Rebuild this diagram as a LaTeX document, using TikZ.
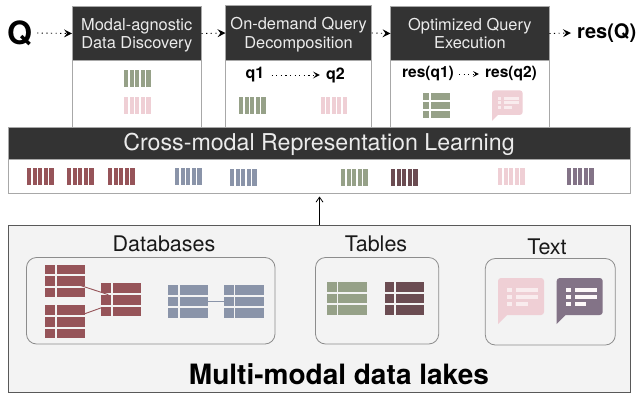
\documentclass[tikz,border=0pt]{standalone}
\usepackage{fontspec}
\setmainfont{TeX Gyre Heros}
\usetikzlibrary{arrows.meta,positioning,calc}
\definecolor{cred}{HTML}{965459}
\definecolor{cblue}{HTML}{8A94A9}
\definecolor{cgreen}{HTML}{96A188}
\definecolor{cpink}{HTML}{EFCFD5}
\definecolor{cdark}{HTML}{6B4C52}
\definecolor{cpurple}{HTML}{837387}
\definecolor{chead}{HTML}{333333}
\definecolor{cline}{HTML}{A8A8A8}
\definecolor{clake}{HTML}{F3F3F3}
\newcommand{\fs}[1]{\fontsize{#1}{#1}\selectfont}
\tikzset{
  bodybox/.style={draw=cline,line width=1pt,fill=white},
  headbox/.style={draw=cline,line width=1pt,fill=chead},
  headtext/.style={text=white!92!black,align=center,inner sep=0pt,font=\fs{16.4},text depth=0pt},
  boldtext/.style={inner sep=0pt,font=\bfseries\fs{#1}},
  grouptext/.style={inner sep=0pt,text=black!90,font=\fs{21.5}},
  groupbox/.style={draw=black!45,line width=.8pt,rounded corners=10pt},
  icon/.style={inner sep=0pt,outer sep=0pt,anchor=north west},
  dotarrow/.style={line width=.9pt,dash pattern=on 1.2pt off 3.4pt,-{Stealth[length=8pt,width=8pt,inset=3pt,line width=0pt]}},
}
% bars: name, x, y, colour
\newcommand{\barsicon}[4]{%
  \node[icon,minimum width=26.5pt,minimum height=17pt] (#1) at (#2,#3) {};
  \foreach \k in {0,...,4}{\fill[#4] ({#2+\k*5.55},#3) rectangle ++(4.3,17);}
}
% table: name, x, y, w, h, colour
\newcommand{\tableicon}[6]{%
  \node[icon,minimum width=#4pt,minimum height=#5pt] (#1) at (#2,#3) {};
  \begin{scope}[shift={(#2,#3)},xscale=#4/39.7,yscale=#5/32.7]
    \foreach \r in {0,1,2}{
      \fill[#6] (0,{\r*11.65}) rectangle ++(9.6,9.6);
      \fill[#6] (11.4,{\r*11.65}) rectangle ++(28.3,9.6);
    }
  \end{scope}
}
% bubble: name, x, y, scale, colour, line colour
\newcommand{\bubbleicon}[6]{%
  \node[icon,minimum width=#4*46pt,minimum height=#4*46pt] (#1) at (#2,#3) {};
  \begin{scope}[shift={(#2,#3)},scale=#4]
    \fill[#5,rounded corners=2.5pt] (0,37) [sharp corners] -- (0,46) -- (9,37) [rounded corners=3pt] -- (46,37) -- (46,0) -- (0,0) -- cycle;
    \foreach \r/\l in {0/22,1/22,2/11.5}{
      \fill[#6] (9,{9.7+\r*6.9}) rectangle ++(5,4.2);
      \fill[#6] (18,{9.7+\r*6.9}) rectangle ++(\l,4.2);
    }
  \end{scope}
}
\begin{document}
\begin{tikzpicture}[x=1pt,y=-1pt]
\useasboundingbox (0,0) rectangle (636,396);
% pipeline boxes
\draw[bodybox] (72,6.5) rectangle (201.5,128);
\node[headbox,icon,minimum width=129.5pt,minimum height=54pt] (h1) at (72,6.5) {};
\node[headtext] at (h1.center) {Modal-agnostic\\[2pt]Data Discovery};
\draw[bodybox] (225.5,6) rectangle (371.7,128);
\node[headbox,icon,minimum width=146.2pt,minimum height=54pt] (h2) at (225.5,6) {};
\node[headtext] at (h2.center) {On-demand Query\\[2pt]Decomposition};
\draw[bodybox] (390.5,7) rectangle (549.3,128);
\node[headbox,icon,minimum width=158.8pt,minimum height=53pt] (h3) at (390.5,7) {};
\node[headtext] at (h3.center) {Optimized Query\\[2pt]Execution};
% query and result
\node[boldtext=32] (q) at (19.5,33) {Q};
\node[boldtext=20,anchor=west] (r) at (577,33) {res(Q)};
\draw[dotarrow] (q.east)++(5,0) -- (h1.west);
\draw[dotarrow] (h1.east) -- (h2.west);
\draw[dotarrow] (h2.east) -- (h3.west);
\draw[dotarrow] (h3.east) -- ([xshift=-6pt]r.west);
% box contents
\barsicon{b1g}{124}{70}{cgreen}
\barsicon{b1p}{124}{97}{cpink}
\node[boldtext=16] (q1) at (255,75) {q1};
\node[boldtext=16] (q2) at (335.5,75) {q2};
\draw[dotarrow,line width=.7pt,-{Stealth[length=7pt,width=7pt,inset=3pt,line width=0pt]}] ([xshift=7pt]q1.east) -- ([xshift=-6pt]q2.west);
\barsicon{b2g}{239}{97}{cgreen}
\barsicon{b2p}{320.5}{97}{cpink}
\node[boldtext=15.5] (rq1) at (428,74) {res(q1)};
\node[boldtext=15.5] (rq2) at (511,74) {res(q2)};
\draw[dotarrow,line width=.7pt,-{Stealth[length=6pt,width=6pt,inset=2.5pt,line width=0pt]}] ([xshift=5pt]rq1.east) -- ([xshift=-6pt]rq2.west);
\tableicon{t3}{423}{93}{26.5}{25}{cgreen}
\bubbleicon{s3}{492}{90.3}{.667}{cpink}{white!60!cpink}
% representation learning
\draw[bodybox] (8.5,159.5) rectangle (630,193);
\node[headbox,icon,minimum width=621.5pt,minimum height=32pt] (cm) at (8.5,127.5) {};
\node[text=white!92!black,inner sep=0pt,font=\fs{23.2}] at (319,144) {Cross-modal Representation Learning};
\barsicon{e1}{27}{168}{cred}
\barsicon{e2}{67}{168}{cred}
\barsicon{e3}{108}{168}{cred}
\barsicon{e4}{175}{168}{cblue}
\barsicon{e5}{230}{169}{cblue}
\barsicon{e6}{341}{169}{cgreen}
\barsicon{e7}{391}{169}{cdark}
\barsicon{e8}{498}{168}{cpink}
\barsicon{e9}{567}{168}{cpurple}
% lake
\node[icon,draw=black!65,line width=1pt,fill=clake,minimum width=621.5pt,minimum height=167.6pt] (lake) at (8.5,225) {};
\coordinate (up) at (319.5,196.5);
\draw[line width=.8pt,-{Straight Barb[length=5pt,width=7pt]}] (lake.north -| up) -- (up);
\node[grouptext] (ldb) at (164,244) {Databases};
\node[grouptext] (lt) at (376,243.5) {Tables};
\node[grouptext] (ltx) at (547,246.5) {Text};
\node[boldtext=28] (ltitle) at (339,374) {Multi-modal data lakes};
\node[icon,groupbox,minimum width=248.5pt,minimum height=86.5pt] (gdb) at (26.5,257.5) {};
\node[icon,groupbox,minimum width=123.2pt,minimum height=86.5pt] (gt) at (315.5,257.5) {};
\node[icon,groupbox,minimum width=130pt,minimum height=86.5pt] (gx) at (485.3,258.5) {};
\tableicon{red1}{45.3}{264.5}{39.7}{32.7}{cred}
\tableicon{red2}{45.3}{305.3}{39.7}{32.7}{cred}
\tableicon{red3}{101.3}{283.3}{39.7}{32.7}{cred}
\draw[cred,line width=.9pt] ([shift={(-7,-12.5)}]red1.south east) -- ([shift={(7,-5)}]red3.west);
\draw[cred,line width=.9pt] ([shift={(0,-8)}]red2.east) -- ([shift={(0.4,8)}]red3.west);
\tableicon{blue1}{168.3}{285}{39.7}{32.7}{cblue}
\tableicon{blue2}{224}{285}{39.7}{32.7}{cblue}
\draw[cblue,line width=.9pt] (blue1.east) -- (blue2.west);
\tableicon{tg}{327}{282}{39.7}{32.7}{cgreen}
\tableicon{td}{384.7}{282}{39.7}{32.7}{cdark}
\bubbleicon{sp}{498}{278}{1}{cpink}{white!60!cpink}
\bubbleicon{su}{556.7}{278}{1}{cpurple}{white!85!cpink}
\end{tikzpicture}
\end{document}
